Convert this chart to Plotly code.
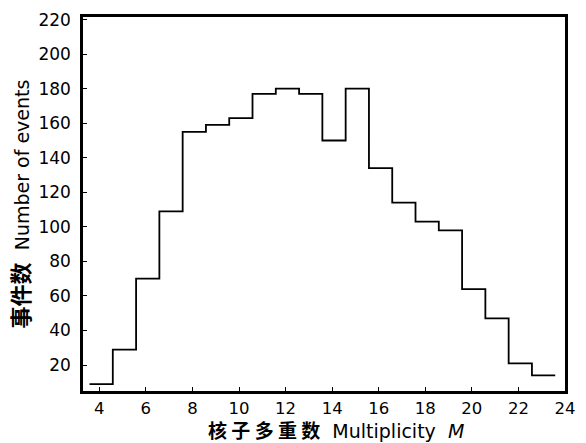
import plotly.graph_objects as go

multiplicity = [4, 5, 6, 7, 8, 9, 10, 11, 12, 13, 14, 15, 16, 17, 18, 19, 20, 21, 22, 23]
events = [9, 29, 70, 109, 155, 159, 163, 177, 180, 177, 150, 180, 134, 114, 103, 98, 64, 47, 21, 14]
x_ticks = [4, 6, 8, 10, 12, 14, 16, 18, 20, 22, 24]
y_ticks = [20, 40, 60, 80, 100, 120, 140, 160, 180, 200, 220]

offset = 0.42
edges = [m - offset for m in multiplicity] + [multiplicity[-1] + 1 - offset]
ys = events + [events[-1]]

fig = go.Figure()
fig.add_trace(go.Scatter(x=edges, y=ys, mode="lines", line_shape="hv",
                         line=dict(color="black", width=1.8), showlegend=False,
                         hoverinfo="skip"))

font = dict(family="DejaVu Sans, sans-serif", size=18, color="black")
fig.update_layout(
    width=586, height=443,
    margin=dict(l=83, r=10, t=17, b=52),
    paper_bgcolor="white", plot_bgcolor="white",
    font=font,
    xaxis=dict(range=[3.3, 24.0], tickvals=x_ticks, ticks="inside", ticklen=4,
               tickcolor="black", showgrid=False, zeroline=False,
               showline=True, linecolor="black", linewidth=2.5, mirror=True,
               tickfont=dict(size=16.5)),
    yaxis=dict(range=[5, 221.5], tickvals=y_ticks, ticks="inside", ticklen=4,
               tickcolor="black", showgrid=False,
               zeroline=False, showline=True, linecolor="black", linewidth=2.5,
               mirror=True, tickfont=dict(size=17), ticklabelstandoff=6,
               title=dict(text="<span style='font-family:Noto Sans CJK SC;font-weight:bold;font-size:22px'>事件数</span>  Number of events",
                          font=dict(size=19), standoff=4)),
    annotations=[dict(
        text="<span style='font-family:Noto Sans CJK SC;font-weight:bold'>核 子 多 重 数</span>  Multiplicity  <i>M</i>",
        xref="paper", yref="paper", x=0.525, y=-0.102, xanchor="center", yanchor="middle",
        showarrow=False, font=dict(size=19, family="DejaVu Sans, sans-serif", color="black"))],
)

fig.write_html("out.html")
